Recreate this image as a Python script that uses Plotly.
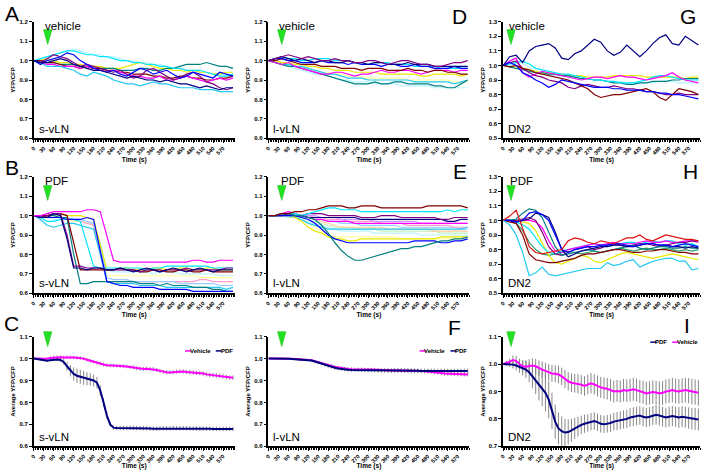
import plotly.graph_objects as go
from plotly.subplots import make_subplots

# ---------------- DATA ----------------
time_raw = list(range(0, 601, 20))
time_avg = list(range(0, 601, 10))
x_tick_vals = list(range(0, 571, 30))

# Panel A: vehicle, s-vLN
a_navy = [1.00,0.99,0.99,1.00,1.01,1.00,0.98,0.97,0.96,0.95,0.95,0.94,0.93,0.92,0.91,0.92,0.91,0.90,0.90,0.89,0.90,0.89,0.88,0.88,0.87,0.86,0.87,0.86,0.85,0.86,0.86]
a_magenta = [1.00,0.99,0.98,0.98,0.97,0.97,0.97,0.96,0.97,0.96,0.95,0.94,0.95,0.94,0.93,0.92,0.92,0.91,0.91,0.92,0.90,0.90,0.91,0.92,0.91,0.90,0.89,0.90,0.91,0.90,0.91]
a_yellow = [1.00,1.00,1.01,1.00,0.99,0.99,0.98,0.98,0.97,0.97,0.97,0.96,0.96,0.96,0.97,0.98,0.99,0.98,0.97,0.96,0.96,0.95,0.95,0.94,0.95,0.94,0.94,0.93,0.93,0.94,0.94]
a_turq = [1.00,1.01,1.02,1.03,1.04,1.05,1.05,1.04,1.03,1.03,1.02,1.02,1.01,1.00,1.00,0.99,0.99,0.98,0.98,0.97,0.97,0.96,0.96,0.95,0.95,0.95,0.94,0.93,0.92,0.92,0.93]
a_purple = [1.00,0.99,1.01,1.03,1.02,1.01,0.99,0.97,0.98,0.97,0.96,0.95,0.94,0.95,0.93,0.91,0.92,0.95,0.96,0.94,0.92,0.90,0.91,0.93,0.94,0.92,0.89,0.88,0.86,0.85,0.86]
a_maroon = [1.00,1.00,0.99,0.99,0.98,0.97,0.97,0.96,0.97,0.96,0.96,0.95,0.95,0.94,0.94,0.93,0.93,0.93,0.92,0.92,0.91,0.91,0.92,0.92,0.91,0.91,0.90,0.90,0.91,0.91,0.92]
a_teal = [1.00,1.00,0.99,0.99,0.98,0.98,0.98,0.97,0.97,0.96,0.96,0.96,0.96,0.95,0.95,0.95,0.96,0.96,0.95,0.95,0.96,0.96,0.97,0.98,0.98,0.98,0.99,0.98,0.97,0.97,0.96]
a_blue = [1.00,0.98,1.00,1.01,1.02,1.04,1.03,1.00,0.98,0.96,0.95,0.94,0.95,0.93,0.92,0.94,0.96,0.95,0.93,0.94,0.95,0.93,0.91,0.92,0.94,0.93,0.92,0.91,0.94,0.93,0.92]
a_sky = [1.00,0.99,0.97,0.97,0.97,0.96,0.95,0.93,0.92,0.94,0.93,0.92,0.90,0.89,0.88,0.88,0.87,0.88,0.89,0.88,0.88,0.87,0.86,0.86,0.86,0.85,0.85,0.85,0.84,0.84,0.84]
a_lturq = [1.00,1.01,1.02,1.03,1.04,1.05,1.06,1.05,1.04,1.03,1.03,1.02,1.02,1.01,1.00,1.00,0.99,0.99,0.98,0.98,0.97,0.96,0.96,0.95,0.95,0.94,0.94,0.93,0.93,0.92,0.92]

# Panel B: PDF, s-vLN
b_navy = [1.00,0.99,0.99,1.01,1.00,0.88,0.73,0.73,0.72,0.73,0.73,0.72,0.72,0.73,0.72,0.71,0.72,0.73,0.72,0.71,0.72,0.73,0.72,0.71,0.72,0.73,0.72,0.71,0.72,0.72,0.72]
b_magenta = [1.00,1.00,1.01,1.02,1.02,1.02,1.02,1.02,1.03,1.03,1.02,0.90,0.77,0.76,0.76,0.76,0.76,0.76,0.76,0.76,0.76,0.76,0.76,0.76,0.77,0.77,0.76,0.76,0.77,0.77,0.77]
b_yellow = [1.00,1.00,1.00,1.01,1.01,1.00,1.00,1.00,0.99,0.98,0.85,0.72,0.72,0.73,0.73,0.72,0.72,0.72,0.73,0.73,0.72,0.72,0.73,0.73,0.72,0.72,0.73,0.73,0.72,0.72,0.72]
b_turq = [1.00,0.99,0.97,0.97,0.98,0.98,0.98,0.97,0.85,0.74,0.73,0.73,0.73,0.73,0.73,0.73,0.73,0.72,0.73,0.73,0.74,0.74,0.74,0.74,0.74,0.74,0.74,0.73,0.73,0.73,0.73]
b_purple = [1.00,0.99,1.00,1.01,1.01,0.90,0.74,0.74,0.73,0.73,0.73,0.72,0.72,0.72,0.72,0.72,0.71,0.72,0.72,0.71,0.72,0.72,0.72,0.73,0.72,0.72,0.72,0.72,0.72,0.73,0.73]
b_maroon = [1.00,1.00,1.00,1.01,1.01,1.00,0.86,0.72,0.72,0.72,0.72,0.72,0.72,0.73,0.72,0.72,0.71,0.71,0.72,0.72,0.71,0.71,0.72,0.72,0.71,0.71,0.72,0.71,0.71,0.71,0.71]
b_teal = [1.00,1.00,1.00,1.00,0.99,0.99,0.80,0.65,0.65,0.66,0.66,0.66,0.66,0.66,0.66,0.66,0.65,0.65,0.65,0.64,0.65,0.64,0.64,0.64,0.63,0.63,0.63,0.62,0.62,0.61,0.61]
b_blue = [1.00,1.00,0.99,0.99,0.99,0.98,0.98,0.98,0.99,0.98,0.82,0.66,0.65,0.64,0.64,0.63,0.63,0.63,0.63,0.62,0.62,0.62,0.62,0.62,0.61,0.61,0.61,0.61,0.61,0.61,0.61]
b_sky = [1.00,0.98,0.95,0.94,0.95,0.96,0.96,0.95,0.94,0.93,0.80,0.66,0.65,0.65,0.65,0.65,0.64,0.64,0.64,0.64,0.63,0.63,0.63,0.63,0.63,0.63,0.63,0.63,0.63,0.62,0.63]
b_lturq = [1.00,0.99,0.99,0.98,0.98,0.98,0.97,0.97,0.96,0.96,0.86,0.72,0.71,0.71,0.71,0.71,0.71,0.71,0.70,0.71,0.71,0.71,0.70,0.70,0.70,0.70,0.70,0.70,0.69,0.69,0.69]
b_lyellow = [1.00,1.00,1.00,1.00,0.99,0.98,0.97,0.97,0.96,0.95,0.82,0.69,0.69,0.69,0.69,0.69,0.69,0.69,0.69,0.69,0.69,0.69,0.69,0.69,0.69,0.68,0.68,0.68,0.68,0.68,0.68]
b_rose = [1.00,1.00,1.00,1.00,0.99,0.99,0.98,0.97,0.96,0.95,0.80,0.66,0.66,0.66,0.66,0.66,0.66,0.66,0.66,0.66,0.66,0.66,0.66,0.66,0.66,0.67,0.67,0.66,0.66,0.66,0.66]
b_pblue = [1.00,0.99,0.99,0.99,0.99,0.98,0.98,0.98,0.97,0.96,0.85,0.68,0.67,0.67,0.67,0.66,0.66,0.66,0.66,0.66,0.66,0.66,0.65,0.65,0.65,0.65,0.65,0.65,0.64,0.64,0.64]

# Panel C: averages, s-vLN
c_vehicle = [1.000,1.000,0.999,0.998,0.999,1.003,1.005,1.006,1.006,1.005,1.006,1.006,1.005,1.004,1.003,1.000,0.995,0.990,0.986,0.982,0.978,0.973,0.970,0.968,0.968,0.967,0.966,0.966,0.964,0.962,0.960,0.956,0.954,0.953,0.954,0.953,0.952,0.948,0.944,0.940,0.938,0.937,0.938,0.941,0.942,0.941,0.939,0.938,0.936,0.935,0.934,0.932,0.928,0.926,0.925,0.923,0.922,0.919,0.916,0.913,0.913]
c_vehicle_err = [0.002,0.003,0.004,0.005,0.006,0.007,0.008,0.008,0.008,0.008,0.008,0.008,0.008,0.008,0.008,0.008,0.008,0.008,0.008,0.008,0.008,0.008,0.008,0.008,0.008,0.008,0.008,0.008,0.008,0.008,0.009,0.009,0.009,0.009,0.009,0.009,0.009,0.009,0.009,0.009,0.009,0.009,0.009,0.009,0.009,0.009,0.009,0.010,0.010,0.010,0.010,0.010,0.010,0.010,0.010,0.010,0.010,0.010,0.010,0.010,0.010]
c_pdf = [1.000,0.998,0.995,0.992,0.990,0.993,0.996,0.996,0.994,0.985,0.965,0.945,0.930,0.922,0.917,0.912,0.908,0.905,0.900,0.890,0.855,0.800,0.740,0.700,0.685,0.683,0.683,0.683,0.684,0.684,0.684,0.683,0.683,0.683,0.682,0.681,0.680,0.680,0.681,0.682,0.682,0.682,0.683,0.683,0.683,0.683,0.682,0.682,0.681,0.681,0.680,0.680,0.680,0.680,0.679,0.679,0.679,0.679,0.679,0.679,0.679]
c_pdf_err = [0.002,0.002,0.003,0.004,0.005,0.005,0.005,0.006,0.008,0.012,0.020,0.026,0.030,0.032,0.032,0.032,0.030,0.028,0.027,0.026,0.024,0.020,0.015,0.011,0.010,0.010,0.010,0.010,0.010,0.010,0.010,0.010,0.010,0.010,0.010,0.010,0.010,0.010,0.010,0.010,0.010,0.010,0.010,0.010,0.010,0.010,0.010,0.010,0.010,0.010,0.010,0.010,0.010,0.010,0.010,0.010,0.010,0.010,0.010,0.010,0.010]

# Panel D: vehicle, l-vLN
d_navy = [1.00,1.01,1.02,1.01,1.00,1.01,1.00,0.99,1.00,1.00,0.99,0.99,1.00,0.99,0.99,0.98,0.99,0.99,0.98,0.98,0.98,0.99,0.98,0.98,0.98,0.97,0.97,0.97,0.97,0.97,0.97]
d_magenta = [1.00,0.99,0.98,0.99,0.97,0.96,0.95,0.94,0.93,0.93,0.94,0.94,0.93,0.92,0.93,0.93,0.94,0.95,0.94,0.94,0.95,0.95,0.94,0.93,0.94,0.95,0.95,0.95,0.94,0.95,0.95]
d_yellow = [1.00,1.00,0.99,0.99,0.98,0.98,0.97,0.97,0.96,0.96,0.95,0.95,0.95,0.94,0.94,0.94,0.94,0.93,0.93,0.93,0.93,0.93,0.93,0.92,0.92,0.93,0.93,0.93,0.93,0.92,0.93]
d_turq = [1.00,1.01,1.02,1.01,1.01,1.00,1.00,1.01,1.01,1.01,1.00,1.00,1.00,0.99,0.99,0.98,0.99,0.99,0.99,0.98,0.98,0.98,0.97,0.97,0.97,0.97,0.96,0.96,0.96,0.96,0.96]
d_purple = [1.00,1.01,1.02,1.03,1.02,1.01,1.02,1.01,1.00,1.00,1.01,1.00,1.00,0.99,0.99,1.00,1.00,0.99,0.98,0.99,1.00,1.00,0.99,0.98,0.98,0.97,0.97,0.98,0.99,0.99,1.00]
d_maroon = [1.00,1.00,1.01,1.00,0.99,0.98,0.98,0.98,0.97,0.97,0.97,0.96,0.96,0.96,0.95,0.96,0.96,0.96,0.95,0.95,0.95,0.96,0.95,0.95,0.94,0.95,0.95,0.94,0.94,0.93,0.93]
d_teal = [1.00,0.99,0.98,0.97,0.97,0.96,0.95,0.94,0.93,0.92,0.91,0.90,0.89,0.88,0.88,0.88,0.89,0.88,0.88,0.89,0.89,0.88,0.88,0.88,0.88,0.87,0.87,0.86,0.86,0.88,0.90]
d_blue = [1.00,1.01,1.01,1.00,1.00,0.99,0.99,0.99,1.00,0.99,0.99,0.99,0.98,0.99,0.98,0.98,0.98,0.97,0.98,0.98,0.97,0.97,0.98,0.97,0.97,0.96,0.96,0.96,0.97,0.96,0.96]
d_sky = [1.00,0.99,0.98,0.98,0.97,0.97,0.96,0.95,0.94,0.93,0.93,0.92,0.91,0.91,0.91,0.90,0.90,0.90,0.90,0.90,0.90,0.90,0.89,0.89,0.89,0.89,0.89,0.89,0.88,0.89,0.90]
d_lturq = [1.00,0.99,0.98,0.97,0.96,0.95,0.94,0.93,0.93,0.92,0.91,0.90,0.90,0.89,0.89,0.89,0.88,0.88,0.88,0.88,0.87,0.87,0.87,0.87,0.87,0.86,0.86,0.86,0.86,0.86,0.86]
d_lyellow = [1.00,0.99,0.99,0.98,0.97,0.96,0.96,0.95,0.94,0.94,0.93,0.93,0.92,0.92,0.92,0.91,0.91,0.91,0.91,0.91,0.91,0.90,0.90,0.90,0.90,0.90,0.90,0.90,0.89,0.89,0.89]

# Panel E: PDF, l-vLN
e_maroon = [1.00,1.00,1.01,1.01,1.02,1.02,1.03,1.03,1.04,1.05,1.05,1.05,1.04,1.04,1.05,1.05,1.05,1.04,1.04,1.04,1.04,1.04,1.04,1.04,1.05,1.05,1.05,1.05,1.05,1.05,1.04]
e_turq = [1.00,1.00,1.01,1.01,1.01,1.00,1.01,1.02,1.03,1.04,1.04,1.03,1.03,1.03,1.02,1.02,1.02,1.02,1.02,1.02,1.02,1.02,1.02,1.02,1.02,1.02,1.02,1.03,1.02,1.03,1.03]
e_purple = [1.00,1.00,1.01,1.01,1.00,1.00,1.01,1.01,1.01,1.00,1.00,1.00,1.00,1.00,0.99,0.99,0.99,1.00,1.00,1.00,0.99,0.99,0.99,0.99,0.99,0.99,0.98,0.98,0.99,0.99,0.99]
e_navy = [1.00,1.00,1.00,1.01,1.00,1.00,0.99,0.99,0.99,0.99,0.99,0.99,0.99,0.99,0.98,0.98,0.98,0.98,0.98,0.98,0.98,0.98,0.98,0.98,0.98,0.98,0.98,0.97,0.97,0.98,0.98]
e_teal = [1.00,1.00,1.01,1.01,1.00,1.00,0.99,0.98,0.95,0.91,0.86,0.82,0.79,0.77,0.77,0.78,0.79,0.80,0.81,0.82,0.83,0.83,0.84,0.84,0.85,0.86,0.87,0.87,0.88,0.88,0.89]
e_blue = [1.00,1.00,1.00,1.00,1.00,0.99,0.98,0.96,0.93,0.90,0.88,0.87,0.86,0.86,0.86,0.86,0.86,0.86,0.86,0.86,0.86,0.86,0.87,0.87,0.87,0.87,0.86,0.86,0.87,0.87,0.88]
e_yellow = [1.00,1.00,1.01,1.01,0.99,0.97,0.94,0.92,0.91,0.89,0.88,0.88,0.87,0.87,0.88,0.88,0.88,0.88,0.88,0.88,0.88,0.88,0.88,0.88,0.88,0.88,0.89,0.89,0.89,0.89,0.89]
e_magenta = [1.00,1.00,1.01,1.02,1.01,1.00,0.99,0.98,0.98,0.97,0.97,0.97,0.97,0.96,0.96,0.96,0.96,0.96,0.96,0.96,0.96,0.96,0.96,0.96,0.96,0.96,0.96,0.96,0.96,0.96,0.96]
e_sky = [1.00,1.00,1.00,1.00,0.99,0.98,0.96,0.95,0.94,0.93,0.93,0.93,0.93,0.93,0.93,0.93,0.93,0.93,0.93,0.93,0.93,0.93,0.93,0.93,0.93,0.93,0.93,0.93,0.93,0.93,0.94]
e_lturq = [1.00,1.00,1.00,0.99,0.99,0.98,0.97,0.96,0.95,0.94,0.93,0.92,0.92,0.92,0.92,0.92,0.91,0.91,0.91,0.91,0.91,0.91,0.91,0.90,0.90,0.90,0.90,0.90,0.90,0.90,0.90]
e_lgreen = [1.00,1.00,1.00,0.99,0.99,0.99,0.98,0.97,0.96,0.95,0.94,0.94,0.94,0.93,0.93,0.93,0.93,0.92,0.92,0.92,0.92,0.92,0.92,0.92,0.92,0.92,0.91,0.91,0.91,0.91,0.91]
e_lyellow = [1.00,1.00,1.00,1.00,0.99,0.98,0.96,0.94,0.92,0.90,0.89,0.89,0.89,0.89,0.89,0.89,0.89,0.89,0.89,0.89,0.88,0.88,0.88,0.88,0.88,0.88,0.88,0.88,0.88,0.88,0.88]
e_pblue = [1.00,1.00,1.00,1.00,1.00,0.99,0.99,0.98,0.98,0.97,0.97,0.96,0.96,0.96,0.95,0.95,0.95,0.95,0.95,0.95,0.94,0.94,0.94,0.94,0.94,0.94,0.94,0.94,0.94,0.93,0.93]
e_rose = [1.00,1.00,1.00,1.01,1.01,1.00,1.00,0.99,0.99,0.98,0.98,0.98,0.97,0.97,0.97,0.97,0.97,0.96,0.96,0.96,0.96,0.95,0.95,0.95,0.95,0.95,0.95,0.95,0.94,0.94,0.94]
e_lavender = [1.00,1.00,1.00,1.00,1.00,1.00,1.00,1.00,0.99,0.99,0.99,0.98,0.98,0.98,0.98,0.98,0.97,0.97,0.97,0.97,0.97,0.97,0.97,0.96,0.96,0.96,0.96,0.96,0.96,0.96,0.96]
e_tan = [1.00,1.00,1.00,1.00,1.00,1.00,0.99,0.98,0.97,0.96,0.95,0.94,0.94,0.94,0.94,0.94,0.94,0.94,0.93,0.93,0.93,0.93,0.93,0.93,0.93,0.92,0.92,0.92,0.92,0.92,0.92]

# Panel F: averages, l-vLN
f_vehicle = [1.000,1.000,1.001,1.002,1.002,1.001,1.000,0.999,0.998,0.997,0.996,0.995,0.994,0.992,0.988,0.983,0.978,0.974,0.970,0.966,0.962,0.959,0.956,0.954,0.953,0.952,0.951,0.951,0.951,0.950,0.950,0.950,0.949,0.948,0.947,0.947,0.947,0.946,0.946,0.946,0.946,0.945,0.945,0.945,0.944,0.944,0.943,0.942,0.941,0.940,0.938,0.936,0.934,0.932,0.931,0.930,0.929,0.929,0.928,0.928,0.928]
f_vehicle_err = [0.001,0.002,0.002,0.003,0.003,0.003,0.004,0.004,0.004,0.005,0.005,0.005,0.005,0.006,0.006,0.006,0.007,0.007,0.007,0.008,0.008,0.008,0.008,0.008,0.008,0.008,0.008,0.008,0.008,0.008,0.008,0.008,0.008,0.008,0.008,0.008,0.008,0.008,0.009,0.009,0.009,0.009,0.009,0.009,0.009,0.009,0.009,0.009,0.009,0.009,0.009,0.009,0.009,0.009,0.009,0.009,0.009,0.009,0.009,0.009,0.009]
f_pdf = [1.000,1.000,1.001,1.002,1.001,1.000,0.999,0.998,0.997,0.996,0.995,0.994,0.993,0.991,0.987,0.982,0.976,0.971,0.966,0.962,0.958,0.955,0.952,0.950,0.949,0.948,0.948,0.948,0.947,0.947,0.946,0.946,0.945,0.945,0.945,0.945,0.945,0.945,0.946,0.946,0.946,0.946,0.945,0.945,0.945,0.945,0.944,0.944,0.944,0.944,0.944,0.944,0.944,0.944,0.944,0.944,0.944,0.944,0.944,0.944,0.944]
f_pdf_err = [0.001,0.002,0.002,0.003,0.003,0.003,0.004,0.004,0.004,0.005,0.005,0.005,0.005,0.006,0.006,0.006,0.007,0.007,0.007,0.008,0.008,0.008,0.008,0.008,0.008,0.008,0.008,0.008,0.008,0.008,0.008,0.008,0.008,0.009,0.009,0.009,0.010,0.010,0.010,0.010,0.010,0.010,0.010,0.010,0.010,0.010,0.010,0.010,0.010,0.010,0.010,0.010,0.010,0.010,0.010,0.010,0.010,0.010,0.010,0.010,0.010]

# Panel G: vehicle, DN2
g_navy = [1.00,1.06,1.07,1.02,1.10,1.13,1.14,1.15,1.12,1.05,1.04,1.08,1.10,1.14,1.18,1.16,1.10,1.07,1.09,1.14,1.10,1.06,1.10,1.15,1.19,1.21,1.15,1.14,1.20,1.17,1.14]
g_blue = [1.00,1.02,1.00,0.95,0.93,0.90,0.88,0.85,0.87,0.90,0.89,0.88,0.87,0.86,0.85,0.85,0.85,0.84,0.84,0.83,0.83,0.83,0.82,0.82,0.81,0.81,0.80,0.80,0.79,0.78,0.77]
g_maroon = [1.00,0.99,1.00,0.98,0.97,0.95,0.94,0.93,0.92,0.91,0.90,0.88,0.86,0.84,0.80,0.78,0.79,0.80,0.80,0.81,0.82,0.83,0.84,0.82,0.78,0.76,0.80,0.84,0.83,0.82,0.80]
g_magenta = [1.00,1.03,1.05,0.95,0.92,0.94,0.96,0.95,0.94,0.93,0.92,0.91,0.90,0.91,0.92,0.92,0.91,0.92,0.93,0.92,0.92,0.91,0.90,0.91,0.92,0.93,0.95,0.92,0.90,0.89,0.88]
g_purple = [1.00,1.02,1.03,0.98,0.95,0.93,0.92,0.90,0.89,0.88,0.85,0.84,0.86,0.87,0.86,0.85,0.85,0.86,0.85,0.84,0.84,0.83,0.82,0.82,0.81,0.80,0.80,0.81,0.80,0.80,0.80]
g_yellow = [1.00,0.99,0.99,0.98,0.97,0.96,0.95,0.95,0.94,0.94,0.93,0.93,0.93,0.92,0.92,0.92,0.92,0.93,0.93,0.93,0.93,0.93,0.92,0.92,0.92,0.92,0.92,0.92,0.91,0.92,0.92]
g_turq = [1.00,1.01,1.02,1.03,1.01,0.98,0.97,0.96,0.95,0.94,0.94,0.93,0.92,0.91,0.90,0.90,0.89,0.89,0.88,0.88,0.88,0.89,0.90,0.92,0.93,0.93,0.92,0.91,0.90,0.90,0.90]
g_teal = [1.00,0.99,0.98,0.97,0.96,0.95,0.95,0.94,0.94,0.93,0.93,0.92,0.91,0.91,0.90,0.90,0.89,0.88,0.88,0.87,0.87,0.88,0.88,0.89,0.89,0.89,0.90,0.90,0.91,0.91,0.91]
g_lturq = [1.00,1.00,1.01,1.02,0.99,0.96,0.95,0.94,0.93,0.93,0.92,0.92,0.91,0.91,0.90,0.90,0.89,0.89,0.89,0.88,0.88,0.88,0.88,0.88,0.89,0.89,0.89,0.88,0.88,0.88,0.88]

# Panel H: PDF, DN2
h_sky = [1.00,0.97,0.90,0.78,0.62,0.64,0.68,0.63,0.62,0.63,0.64,0.65,0.66,0.67,0.67,0.67,0.71,0.69,0.70,0.72,0.73,0.68,0.70,0.72,0.73,0.74,0.74,0.72,0.72,0.66,0.67]
h_red = [1.00,1.03,1.07,0.95,0.82,0.78,0.77,0.78,0.79,0.80,0.86,0.88,0.87,0.85,0.84,0.86,0.85,0.84,0.86,0.88,0.88,0.90,0.87,0.86,0.88,0.90,0.89,0.88,0.87,0.87,0.86]
h_maroon = [1.00,0.99,0.98,0.90,0.77,0.73,0.72,0.71,0.71,0.72,0.73,0.74,0.76,0.77,0.77,0.78,0.79,0.80,0.80,0.79,0.78,0.78,0.79,0.79,0.80,0.80,0.79,0.78,0.78,0.77,0.77]
h_teal = [1.00,1.00,1.01,1.05,1.08,1.07,1.02,0.92,0.82,0.76,0.77,0.78,0.79,0.80,0.79,0.78,0.79,0.80,0.81,0.82,0.83,0.81,0.80,0.81,0.82,0.82,0.81,0.81,0.82,0.81,0.81]
h_blue = [1.00,1.00,0.99,1.00,1.05,1.06,1.04,1.00,0.90,0.80,0.78,0.80,0.81,0.82,0.82,0.83,0.83,0.84,0.84,0.83,0.82,0.83,0.84,0.84,0.83,0.83,0.82,0.83,0.84,0.83,0.82]
h_navy = [1.00,1.00,0.99,1.00,1.01,1.05,1.04,1.02,0.92,0.80,0.75,0.77,0.79,0.80,0.81,0.82,0.82,0.83,0.83,0.82,0.82,0.83,0.84,0.84,0.83,0.83,0.82,0.82,0.81,0.82,0.81]
h_yellow = [1.00,1.00,1.00,0.99,0.98,0.93,0.85,0.76,0.71,0.70,0.72,0.74,0.76,0.75,0.72,0.71,0.73,0.75,0.77,0.78,0.77,0.76,0.75,0.74,0.75,0.76,0.77,0.76,0.75,0.74,0.73]
h_magenta = [1.00,1.00,0.99,1.00,1.00,0.99,0.95,0.86,0.79,0.78,0.80,0.81,0.82,0.83,0.84,0.83,0.84,0.85,0.84,0.84,0.84,0.85,0.86,0.85,0.85,0.86,0.85,0.85,0.86,0.86,0.86]
h_purple = [1.00,1.00,1.00,1.01,1.02,1.00,0.92,0.82,0.77,0.76,0.78,0.80,0.81,0.82,0.80,0.81,0.83,0.84,0.83,0.82,0.83,0.84,0.84,0.83,0.82,0.83,0.84,0.85,0.85,0.86,0.85]
h_turq = [1.00,1.00,0.99,0.97,0.94,0.88,0.82,0.78,0.77,0.79,0.80,0.81,0.82,0.83,0.84,0.83,0.82,0.83,0.84,0.85,0.85,0.84,0.85,0.86,0.85,0.86,0.86,0.84,0.83,0.84,0.82]
h_green = [1.00,1.00,0.98,0.93,0.85,0.80,0.77,0.76,0.77,0.78,0.79,0.78,0.77,0.78,0.79,0.78,0.79,0.80,0.81,0.80,0.79,0.80,0.81,0.80,0.80,0.81,0.80,0.79,0.80,0.79,0.80]

# Panel I: averages, DN2
i_vehicle = [1.000,1.003,1.008,1.015,1.012,1.000,0.992,0.990,0.993,0.995,0.992,0.985,0.980,0.975,0.970,0.966,0.965,0.962,0.955,0.945,0.937,0.932,0.930,0.928,0.925,0.920,0.925,0.930,0.926,0.920,0.915,0.912,0.910,0.905,0.900,0.902,0.900,0.905,0.903,0.905,0.908,0.905,0.900,0.897,0.893,0.895,0.898,0.896,0.893,0.895,0.900,0.902,0.905,0.902,0.900,0.903,0.905,0.903,0.900,0.898,0.895]
i_vehicle_err = [0.003,0.008,0.012,0.016,0.018,0.020,0.022,0.024,0.025,0.026,0.027,0.028,0.029,0.030,0.030,0.031,0.031,0.032,0.032,0.033,0.033,0.034,0.034,0.035,0.035,0.036,0.036,0.037,0.037,0.038,0.038,0.039,0.039,0.040,0.040,0.040,0.040,0.041,0.041,0.041,0.042,0.042,0.042,0.042,0.043,0.043,0.043,0.043,0.044,0.044,0.044,0.044,0.045,0.045,0.045,0.045,0.045,0.046,0.046,0.046,0.046]
i_pdf = [1.000,1.000,1.000,0.998,0.995,0.990,0.985,0.980,0.970,0.955,0.940,0.925,0.910,0.895,0.870,0.830,0.790,0.765,0.755,0.750,0.752,0.758,0.765,0.772,0.778,0.782,0.785,0.790,0.792,0.788,0.782,0.780,0.782,0.785,0.790,0.792,0.795,0.798,0.800,0.805,0.808,0.810,0.812,0.808,0.805,0.808,0.812,0.815,0.812,0.808,0.805,0.808,0.810,0.808,0.805,0.808,0.806,0.803,0.800,0.800,0.798]
i_pdf_err = [0.003,0.006,0.010,0.014,0.018,0.022,0.026,0.030,0.036,0.042,0.050,0.058,0.064,0.068,0.068,0.066,0.062,0.058,0.054,0.050,0.046,0.042,0.038,0.036,0.034,0.033,0.032,0.032,0.032,0.032,0.032,0.032,0.032,0.032,0.032,0.033,0.033,0.033,0.033,0.034,0.034,0.034,0.034,0.035,0.035,0.035,0.035,0.036,0.036,0.036,0.036,0.037,0.037,0.037,0.038,0.038,0.038,0.039,0.039,0.040,0.040]

# ---------------- STYLE ----------------
C_NAVY = "#000080"; C_MAG = "#ff00ff"; C_YEL = "#e8e800"; C_TURQ = "#00e5ff"
C_PURP = "#800080"; C_MAR = "#800000"; C_TEAL = "#008080"; C_BLUE = "#0000ff"
C_SKY = "#22c8f0"; C_LTURQ = "#b8f4ff"; C_LGREEN = "#bff0bf"; C_LYEL = "#ffff99"
C_PBLUE = "#99ccff"; C_ROSE = "#ff99cc"; C_LAV = "#cc99ff"; C_TAN = "#ffcc99"
C_RED = "#e01010"; C_GREEN = "#2e9e6a"

panel_raw = {
    (1, 1): [(a_lturq, C_LTURQ), (a_yellow, C_YEL), (a_teal, C_TEAL), (a_turq, C_TURQ), (a_maroon, C_MAR),
             (a_magenta, C_MAG), (a_sky, C_SKY), (a_purple, C_PURP), (a_blue, C_BLUE), (a_navy, C_NAVY)],
    (2, 1): [(b_lturq, C_LTURQ), (b_lyellow, C_LYEL), (b_rose, C_ROSE), (b_pblue, C_PBLUE), (b_sky, C_SKY),
             (b_yellow, C_YEL), (b_turq, C_TURQ), (b_teal, C_TEAL), (b_blue, C_BLUE), (b_maroon, C_MAR),
             (b_purple, C_PURP), (b_navy, C_NAVY), (b_magenta, C_MAG)],
    (1, 2): [(d_lturq, C_LTURQ), (d_lyellow, C_LYEL), (d_sky, C_SKY), (d_yellow, C_YEL), (d_teal, C_TEAL),
             (d_magenta, C_MAG), (d_maroon, C_MAR), (d_turq, C_TURQ), (d_blue, C_BLUE), (d_navy, C_NAVY),
             (d_purple, C_PURP)],
    (2, 2): [(e_lturq, C_LTURQ), (e_lgreen, C_LGREEN), (e_lyellow, C_LYEL), (e_pblue, C_PBLUE), (e_rose, C_ROSE),
             (e_lavender, C_LAV), (e_tan, C_TAN), (e_sky, C_SKY), (e_magenta, C_MAG), (e_yellow, C_YEL),
             (e_navy, C_NAVY), (e_purple, C_PURP), (e_turq, C_TURQ), (e_blue, C_BLUE), (e_teal, C_TEAL),
             (e_maroon, C_MAR)],
    (1, 3): [(g_lturq, C_LTURQ), (g_yellow, C_YEL), (g_teal, C_TEAL), (g_turq, C_TURQ), (g_magenta, C_MAG),
             (g_purple, C_PURP), (g_maroon, C_MAR), (g_blue, C_BLUE), (g_navy, C_NAVY)],
    (2, 3): [(h_green, C_GREEN), (h_yellow, C_YEL), (h_turq, C_TURQ), (h_magenta, C_MAG), (h_purple, C_PURP),
             (h_teal, C_TEAL), (h_maroon, C_MAR), (h_navy, C_NAVY), (h_blue, C_BLUE), (h_red, C_RED),
             (h_sky, C_SKY)],
}

panel_avg = {
    (3, 1): [(c_vehicle, c_vehicle_err, C_MAG), (c_pdf, c_pdf_err, C_NAVY)],
    (3, 2): [(f_vehicle, f_vehicle_err, C_MAG), (f_pdf, f_pdf_err, C_NAVY)],
    (3, 3): [(i_vehicle, i_vehicle_err, C_MAG), (i_pdf, i_pdf_err, C_NAVY)],
}

W, H = 703, 470
col_px = {1: (30, 232), 2: (266, 468), 3: (502, 700)}
row_px = {1: (19, 137), 2: (176, 294), 3: (338, 449)}
y_ranges = {(1, 1): [0.6, 1.2], (2, 1): [0.6, 1.2], (3, 1): [0.6, 1.1],
            (1, 2): [0.6, 1.2], (2, 2): [0.6, 1.2], (3, 2): [0.6, 1.1],
            (1, 3): [0.5, 1.3], (2, 3): [0.5, 1.3], (3, 3): [0.7, 1.1]}

FONT = "Liberation Sans, Arial, sans-serif"

fig = make_subplots(rows=3, cols=3)

for (r, c), traces in panel_raw.items():
    for vals, col in traces:
        fig.add_trace(go.Scatter(x=time_raw, y=vals, mode="lines", line=dict(color=col, width=1.2),
                                 showlegend=False, hoverinfo="skip"), row=r, col=c)

for (r, c), traces in panel_avg.items():
    for vals, err, col in traces:
        fig.add_trace(go.Scatter(x=time_avg, y=vals, mode="markers", marker=dict(size=1, opacity=0),
                                 error_y=dict(type="data", array=err, color="#7a7a7a", thickness=0.9, width=0),
                                 showlegend=False, hoverinfo="skip"), row=r, col=c)
    for vals, err, col in traces:
        fig.add_trace(go.Scatter(x=time_avg, y=vals, mode="lines", line=dict(color=col, width=2),
                                 showlegend=False, hoverinfo="skip"), row=r, col=c)

for r in (1, 2, 3):
    for c in (1, 2, 3):
        x0, x1 = col_px[c]
        y0, y1 = row_px[r]
        fig.update_xaxes(domain=[x0 / W, x1 / W], range=[0, 605], tickvals=x_tick_vals,
                         ticktext=[str(v) for v in x_tick_vals], tickangle=-45,
                         tickfont=dict(family=FONT, size=5.5, color="black", weight="bold"),
                         showline=True, linecolor="black", linewidth=1.5, ticks="outside", ticklen=3,
                         tickwidth=1, tickcolor="black", showgrid=False, zeroline=False,
                         minor=dict(dtick=5, ticks="outside", ticklen=2, tickwidth=0.7, tickcolor="black", showgrid=False),
                         title=dict(text="Time (s)", font=dict(family=FONT, size=6.5, color="black", weight="bold"), standoff=1),
                         row=r, col=c)
        yr = y_ranges[(r, c)]
        fig.update_yaxes(domain=[1 - y1 / H, 1 - y0 / H], range=yr, dtick=0.1, tickformat=".1f",
                         tickfont=dict(family=FONT, size=6, color="black", weight="bold"),
                         showline=True, linecolor="black", linewidth=1.5, ticks="outside", ticklen=3,
                         tickwidth=1, tickcolor="black", showgrid=False, zeroline=False,
                         title=dict(text="Average YFP/CFP" if r == 3 else "YFP/CFP",
                                    font=dict(family=FONT, size=6, color="black", weight="bold"), standoff=3),
                         row=r, col=c)

annotations = []
shapes = []

def px_paper(x, y):
    return x / W, 1 - y / H

letters = {"A": (8, 11), "B": (8, 167), "C": (8, 325), "D": (458, 14), "E": (459, 171),
           "F": (453, 329), "G": (688, 14), "H": (690, 171), "I": (687, 327)}
for t, (x, y) in letters.items():
    px_, py_ = px_paper(x, y)
    annotations.append(dict(text=t, x=px_, y=py_, xref="paper", yref="paper", showarrow=False,
                            xanchor="center", yanchor="middle",
                            font=dict(family=FONT, size=21, color="black")))

axis_idx = {(r, c): (r - 1) * 3 + c for r in (1, 2, 3) for c in (1, 2, 3)}

def axref(r, c):
    i = axis_idx[(r, c)]
    s = "" if i == 1 else str(i)
    return "x" + s + " domain", "y" + s + " domain"

treat = {(1, 1): ("vehicle", 0.045), (1, 2): ("vehicle", 0.044), (1, 3): ("vehicle", 0.02),
         (2, 1): ("PDF", 0.045), (2, 2): ("PDF", 0.05), (2, 3): ("PDF", 0.025)}
for (r, c), (txt, xd) in treat.items():
    xr, yr_ = axref(r, c)
    annotations.append(dict(text=txt, x=xd, y=1.03, xref=xr, yref=yr_, showarrow=False,
                            xanchor="left", yanchor="top", font=dict(family=FONT, size=11.5, color="black")))

cells = {1: "s-vLN", 2: "l-vLN", 3: "DN2"}
for r in (1, 2, 3):
    for c in (1, 2, 3):
        xr, yr_ = axref(r, c)
        annotations.append(dict(text=cells[c], x=0.015, y=0.015, xref=xr, yref=yr_, showarrow=False,
                                xanchor="left", yanchor="bottom", font=dict(family=FONT, size=11.5, color="black")))

# legends: short coloured dash + bold label, laid out right to left from the panel's right edge
leg = {(3, 1): [("Vehicle", C_MAG), ("PDF", C_NAVY)], (3, 2): [("Vehicle", C_MAG), ("PDF", C_NAVY)],
       (3, 3): [("PDF", C_NAVY), ("Vehicle", C_MAG)]}
leg_y = {1: 0.87, 2: 0.87, 3: 0.95}
label_w = {"Vehicle": 22, "PDF": 13}
for (r, c), items in leg.items():
    xr, yr_ = axref(r, c)
    x0, x1 = col_px[c]
    wpx = x1 - x0
    pos = 1.0
    for name, col in reversed(items):
        annotations.append(dict(text=name, x=pos, y=leg_y[c], xref=xr, yref=yr_, showarrow=False,
                                xanchor="right", yanchor="middle",
                                font=dict(family=FONT, size=6, color="black", weight="bold")))
        pos -= label_w[name] / wpx
        shapes.append(dict(type="line", xref=xr, yref=yr_, x0=pos - 6 / wpx, x1=pos, y0=leg_y[c], y1=leg_y[c],
                           line=dict(color=col, width=1.5)))
        pos -= 9 / wpx

# green injection triangles
tri_x = {1: 0.069, 2: 0.066, 3: 0.04}
tri_y = {1: (0.932, 0.805), 2: (0.924, 0.797), 3: (1.045, 0.91)}
for r in (1, 2, 3):
    for c in (1, 2, 3):
        xr, yr_ = axref(r, c)
        x0, x1 = col_px[c]
        hw = 4.2 / (x1 - x0)
        xc = tri_x[c]
        top, tip = tri_y[r]
        shapes.append(dict(type="path", xref=xr, yref=yr_,
                           path="M %f %f L %f %f L %f %f Z" % (xc - hw, top, xc + hw, top, xc, tip),
                           fillcolor="#22e022", line=dict(color="#19c819", width=0.6)))

fig.update_layout(width=W, height=H, margin=dict(l=0, r=0, t=0, b=0), paper_bgcolor="white",
                  plot_bgcolor="white", annotations=annotations, shapes=shapes, showlegend=False)

fig.write_html("out.html", config={"displayModeBar": False},
               post_script="document.body.style.margin='0px';document.body.style.overflow='hidden';")
